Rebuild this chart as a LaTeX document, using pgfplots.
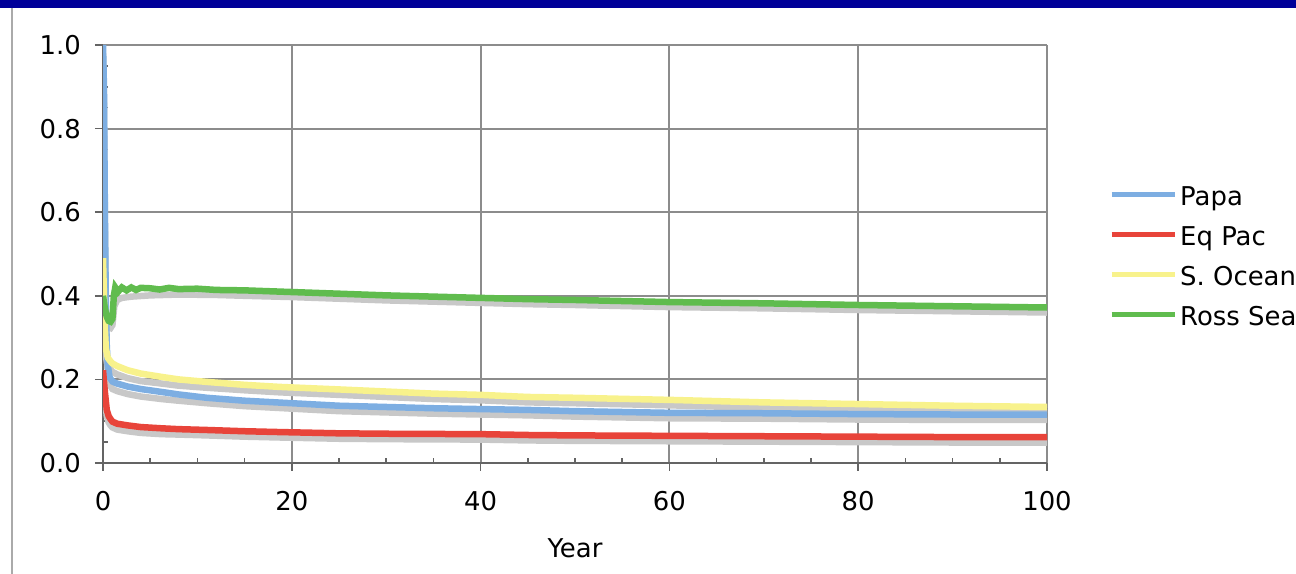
\documentclass[border=0pt]{standalone}
\usepackage{pgfplots}
\pgfplotsset{compat=1.18}
\usepackage{fontspec}
\setmainfont{DejaVu Sans}
\definecolor{cPapa}{RGB}{125,174,226}
\definecolor{cEq}{RGB}{232,68,58}
\definecolor{cSO}{RGB}{248,242,140}
\definecolor{cRoss}{RGB}{96,188,78}
\definecolor{cShadow}{RGB}{200,200,200}
\definecolor{cGrid}{RGB}{140,140,140}
\definecolor{cAxis}{RGB}{100,100,100}
\definecolor{cBar}{RGB}{0,0,153}
\definecolor{cLeft}{RGB}{170,170,170}
\newcommand{\chartfont}{\fontsize{26}{31}\selectfont}
\begin{document}
\begin{tikzpicture}
\useasboundingbox (0,0) rectangle (1296bp,574bp);
\fill[cBar] (0,566bp) rectangle (1296bp,574bp);
\draw[cLeft, line width=2bp] (12bp,0) -- (12bp,566bp);
\begin{axis}[
  at={(103bp,111bp)}, anchor=south west,
  scale only axis, width=944bp, height=418bp,
  xmin=0, xmax=100, ymin=0, ymax=1,
  axis lines=left, axis line style={-, draw=cAxis, line width=2.5bp},
  xtick={0,20,...,100}, ytick={0,0.2,...,1.0},
  minor x tick num=3, minor y tick num=3,
  tick align=inside,
  major tick length=8bp, minor tick length=5bp,
  tick style={draw=cAxis, line width=1.5bp},
  major x tick style={yshift=-8bp},
  major y tick style={xshift=-8bp},
  grid=major,
  major grid style={draw=cGrid, line width=2bp},
  /pgf/number format/assume math mode=true,
  tick label style={font=\chartfont},
  yticklabel style={/pgf/number format/.cd, fixed, fixed zerofill, precision=1, /tikz/.cd, anchor=east, inner sep=0pt, xshift=-22bp},
  xticklabel style={anchor=base, inner sep=0pt, yshift=-47bp},
  xlabel={Year},
  xlabel style={at={(axis description cs:0.5,-0.227)}, anchor=base, inner sep=0pt, font=\chartfont},
  legend cell align=left,
  legend image code/.code={\draw[#1, line width=5bp] (0bp,0bp) -- (63bp,0bp);},
  legend style={draw=none, fill=none, at={(1.0657,0.670)}, anchor=north west,
    inner sep=0pt, row sep=18bp, font=\chartfont,
    nodes={inner sep=0pt, text height=22bp, text depth=0bp},
    /tikz/every odd column/.append style={column sep=3bp}},
]
% shadows
\addplot[cShadow, line width=6.5bp, forget plot] coordinates {
(0,0.98) (0.1,0.88) (0.2,0.58) (0.3,0.36) (0.4,0.26) (0.5,0.215) (0.7,0.187) (1,0.177) (1.5,0.172) (2.6,0.165) (4,0.159) (6.2,0.153) (8,0.149) (11,0.143) (15,0.136) (20,0.130) (25,0.124) (30,0.121) (35,0.118) (40,0.116) (45,0.114) (50,0.111) (55,0.109) (60,0.107) (70,0.106) (80,0.104) (90,0.103) (100,0.103)};
\addplot[cShadow, line width=6.5bp, forget plot] coordinates {
(0,0.205) (0.2,0.155) (0.4,0.112) (0.6,0.097) (0.8,0.090) (1,0.085) (1.5,0.080) (2.6,0.076) (4,0.072) (6.2,0.069) (8,0.068) (11,0.066) (15,0.063) (18.75,0.061) (25,0.058) (30,0.057) (40,0.056) (45,0.054) (50,0.053) (60,0.052) (70,0.051) (80,0.050) (90,0.049) (100,0.049)};
\addplot[cShadow, line width=6.5bp, forget plot] coordinates {
(0,0.47) (0.1,0.38) (0.2,0.30) (0.3,0.255) (0.5,0.232) (0.8,0.223) (1,0.218) (1.5,0.212) (2.6,0.203) (4,0.196) (6.2,0.190) (8,0.185) (11,0.180) (15,0.174) (18.75,0.169) (25,0.163) (30,0.158) (35,0.153) (40,0.150) (45,0.145) (50,0.143) (60,0.138) (70,0.132) (80,0.128) (90,0.124) (100,0.121)};
\addplot[cShadow, line width=6.5bp, forget plot] coordinates {
(0,0.385) (0.2,0.355) (0.4,0.335) (0.6,0.325) (0.8,0.323) (1.0,0.33) (1.2,0.375) (1.5,0.390) (2,0.395) (3,0.398) (5,0.401) (8,0.403) (12,0.402) (15,0.400) (20,0.397) (25,0.393) (30,0.389) (35,0.386) (40,0.383) (45,0.380) (50,0.378) (60,0.373) (70,0.370) (80,0.366) (90,0.363) (100,0.360)};
% series
\addplot[cPapa, line width=6.5bp] coordinates {
(0,1.0) (0.1,0.9) (0.2,0.6) (0.3,0.38) (0.4,0.28) (0.5,0.235) (0.7,0.205) (1,0.195) (1.5,0.19) (2.6,0.183) (4,0.177) (6.2,0.17) (8,0.164) (11,0.156) (15,0.149) (20,0.143) (25,0.137) (30,0.134) (35,0.131) (40,0.129) (45,0.127) (50,0.124) (55,0.122) (60,0.12) (70,0.119) (80,0.117) (90,0.116) (100,0.116)};
\addlegendentry{Papa}
\addplot[cEq, line width=6.5bp] coordinates {
(0,0.222) (0.2,0.17) (0.4,0.127) (0.6,0.112) (0.8,0.105) (1,0.099) (1.5,0.094) (2.6,0.09) (4,0.086) (6.2,0.083) (8,0.081) (11,0.079) (15,0.076) (18.75,0.074) (25,0.071) (30,0.07) (40,0.069) (45,0.067) (50,0.066) (60,0.065) (70,0.064) (80,0.063) (90,0.062) (100,0.062)};
\addlegendentry{Eq Pac}
\addplot[cSO, line width=6.5bp] coordinates {
(0,0.49) (0.1,0.40) (0.2,0.32) (0.3,0.275) (0.5,0.252) (0.8,0.243) (1,0.238) (1.5,0.232) (2.6,0.222) (4,0.214) (6.2,0.206) (8,0.2) (11,0.194) (15,0.187) (18.75,0.182) (25,0.176) (30,0.171) (35,0.166) (40,0.163) (45,0.158) (50,0.156) (60,0.151) (70,0.145) (80,0.141) (90,0.137) (100,0.134)};
\addlegendentry{S. Ocean}
\addplot[cRoss, line width=6.5bp] coordinates {
(0,0.40) (0.2,0.37) (0.4,0.35) (0.6,0.34) (0.8,0.338) (1.0,0.345) (1.15,0.40) (1.3,0.42) (1.6,0.41) (2,0.42) (2.5,0.413) (3,0.42) (3.5,0.414) (4,0.419) (5,0.418) (6,0.415) (7,0.419) (8,0.416) (10,0.417) (12,0.414) (15,0.413) (18.75,0.41) (25,0.405) (30,0.401) (35,0.398) (40,0.395) (45,0.392) (50,0.39) (60,0.385) (70,0.382) (80,0.378) (90,0.375) (100,0.372)};
\addlegendentry{Ross Sea}
\end{axis}
\end{tikzpicture}
\end{document}
